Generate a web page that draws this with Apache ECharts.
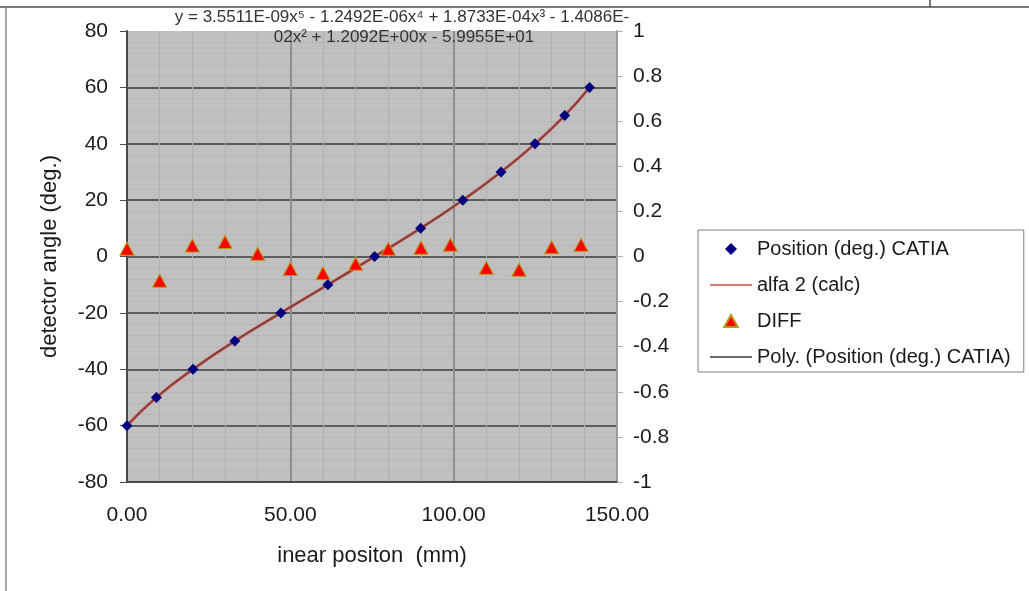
<!DOCTYPE html>
<html>
<head>
<meta charset="utf-8">
<script src="https://cdn.jsdelivr.net/npm/echarts@6/dist/echarts.min.js"></script>
<style>
    html, body { margin: 0; padding: 0; background: #fff; }
    #chart { width: 1029px; height: 591px; }
</style>
</head>
<body>
<div id="chart"></div>
<script>
// linear position (mm) of the CATIA points and their angle (deg.)
var positionX = [0, 9.0, 20.2, 33.0, 47.1, 61.5, 75.8, 89.9, 102.8, 114.5, 124.9, 134.0, 141.6]
var positionDeg = [-60, -50, -40, -30, -20, -10, 0, 10, 20, 30, 40, 50, 60]

// alfa 2 (calc)
var alfaX = [0, 9.0, 20.2, 33.0, 47.1, 61.5, 75.8, 89.9, 102.8, 114.5, 124.9, 134.0, 141.6]
var alfaDeg = [-60, -50, -40, -30, -20, -10, 0, 10, 20, 30, 40, 50, 60]

// DIFF on the right axis
var diffX = [0, 10, 20, 30, 40, 50, 60, 70, 80, 90, 99, 110, 120, 130, 139]
var diffVal = [0.034, -0.107, 0.049, 0.064, 0.012, -0.055, -0.074, -0.032, 0.034, 0.039, 0.052, -0.05, -0.059, 0.041, 0.052]

var legendNames = ['Position (deg.) CATIA', 'alfa 2 (calc)', 'DIFF', 'Poly. (Position (deg.) CATIA)']
var trendText = ['y = 3.5511E-09x\u2075 - 1.2492E-06x\u2074 + 1.8733E-04x\u00b3 - 1.4086E-',
                 '02x\u00b2 + 1.2092E+00x - 5.9955E+01']

function pairs(xs, ys) {
    var out = []
    for (var i = 0; i < xs.length; i++) {
        out.push([xs[i], ys[i]])
    }
    return out
}

window.onload = function() {
    var chart = echarts.init(document.getElementById('chart'));
    var font = 'Liberation Sans, Arial, sans-serif'

    // legend icons, kept to their own aspect inside the 42x12 slot
    var lineIcon = 'path://M0,0H42V1.6H0Z'
    var diamondIcon = 'path://M0,-5L5,0L0,5L-5,0Z'
    var triangleIcon = 'path://M0,-5L5.6,5L-5.6,5Z'

    var option = {
        animation: false,
        textStyle: { fontFamily: font },
        grid: {
            left: 127,
            right: 412,
            top: 31,
            bottom: 109,
            show: true,
            backgroundColor: '#c0c0c0',
            borderWidth: 0
        },
        legend: {
            orient: 'vertical',
            left: 698,
            top: 230,
            padding: [9, 13, 5, 12],
            itemWidth: 42,
            itemHeight: 12,
            itemGap: 16,
            borderColor: '#7f7f7f',
            borderWidth: 1,
            textStyle: { fontSize: 20, color: '#1a1a1a', lineHeight: 20 },
            data: [
                { name: legendNames[0], icon: diamondIcon },
                { name: legendNames[1], icon: lineIcon },
                { name: legendNames[2], icon: triangleIcon },
                { name: legendNames[3], icon: lineIcon }
            ]
        },
        xAxis: {
            type: 'value',
            min: 0,
            max: 150,
            interval: 50,
            name: 'inear positon  (mm)',
            nameLocation: 'middle',
            nameGap: 63,
            nameTextStyle: { fontSize: 22, color: '#1a1a1a' },
            axisLine: { show: true, onZero: false, lineStyle: { color: '#4a4a4a', width: 2 } },
            axisTick: { show: false },
            axisLabel: {
                fontSize: 21,
                color: '#1a1a1a',
                margin: 23,
                formatter: function(v) { return v.toFixed(2) }
            },
            splitLine: { show: true, lineStyle: { color: '#8e8e8e', width: 2 } },
            minorTick: { show: false, splitNumber: 5 },
            minorSplitLine: { show: true, lineStyle: { color: '#b0b0b0', width: 1 } }
        },
        yAxis: [
            {
                type: 'value',
                min: -80,
                max: 80,
                interval: 20,
                name: 'detector angle (deg.)',
                nameLocation: 'middle',
                nameGap: 66,
                nameTextStyle: { fontSize: 22, color: '#1a1a1a' },
                axisLine: { show: true, onZero: false, lineStyle: { color: '#4a4a4a', width: 2 } },
                axisTick: { show: true, length: 7, lineStyle: { color: '#4a4a4a', width: 1 } },
                axisLabel: { fontSize: 21, color: '#1a1a1a', margin: 19 },
                splitLine: { show: true, showMaxLine: false, lineStyle: { color: '#5c5c5c', width: 2 } },
                minorTick: { show: false, splitNumber: 5 },
                minorSplitLine: { show: true, lineStyle: { color: '#b6b6b6', width: 1 } }
            },
            {
                type: 'value',
                position: 'right',
                min: -1,
                max: 1,
                interval: 0.2,
                axisLine: { show: true, onZero: false, lineStyle: { color: '#9a9a9a', width: 2 } },
                axisTick: { show: true, length: 6, lineStyle: { color: '#b0b0b0', width: 1 } },
                axisLabel: { fontSize: 21, color: '#1a1a1a', margin: 16 },
                splitLine: { show: false }
            }
        ],
        graphic: [
            // outer frame of the pasted sheet
            { type: 'line', shape: { x1: 0, y1: 7, x2: 1029, y2: 7 }, style: { stroke: '#4d4d4d', lineWidth: 1.5 } },
            { type: 'line', shape: { x1: 930, y1: 0, x2: 930, y2: 7 }, style: { stroke: '#4d4d4d', lineWidth: 1.5 } },
            { type: 'line', shape: { x1: 6, y1: 8, x2: 6, y2: 591 }, style: { stroke: '#a8a8a8', lineWidth: 2 } },
            // trendline equation
            { type: 'text', x: 402, y: 9, z: 10, style: { text: trendText[0], font: '17px ' + font, fill: '#333', align: 'center' } },
            { type: 'text', x: 404, y: 29, z: 10, style: { text: trendText[1], font: '17px ' + font, fill: '#333', align: 'center' } }
        ],
        series: [
            {
                name: legendNames[1],
                type: 'line',
                smooth: true,
                symbol: 'none',
                lineStyle: { color: '#c8504a', width: 3 },
                itemStyle: { color: '#c8504a' },
                data: pairs(alfaX, alfaDeg)
            },
            {
                name: legendNames[3],
                type: 'line',
                smooth: true,
                symbol: 'none',
                lineStyle: { color: '#3a3a3a', width: 1 },
                itemStyle: { color: '#3a3a3a' },
                data: pairs(positionX, positionDeg)
            },
            {
                name: legendNames[0],
                type: 'scatter',
                symbol: 'diamond',
                symbolSize: 11,
                itemStyle: { color: '#000080', opacity: 1 },
                z: 5,
                data: pairs(positionX, positionDeg)
            },
            {
                name: legendNames[2],
                type: 'scatter',
                yAxisIndex: 1,
                symbol: 'triangle',
                symbolSize: [14, 13],
                itemStyle: { color: '#ff0000', borderColor: '#b89a10', borderWidth: 1, opacity: 1 },
                z: 4,
                data: pairs(diffX, diffVal)
            }
        ]
    };

    chart.setOption(option);
}
</script>
</body>
</html>
